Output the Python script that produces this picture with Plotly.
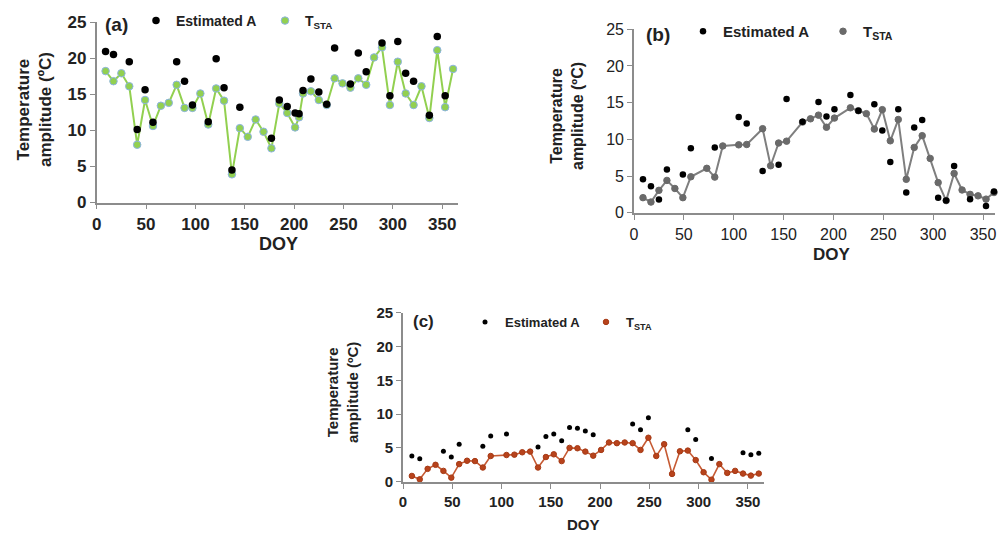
import plotly.graph_objects as go

W, H = 1000, 536
FONT = "Liberation Sans, Arial, Helvetica, sans-serif"

# ---------------- data ----------------
# Panel (a)
doy_a = [9, 17, 25, 33, 41, 49, 57, 65, 73, 81, 89, 97, 105, 113, 121, 129, 137, 145, 153, 161,
         169, 177, 185, 193, 201, 205, 209, 217, 225, 233, 241, 249, 257, 265, 273, 281, 289, 297,
         305, 313, 321, 329, 337, 345, 353, 361]
tsta_a = [18.2, 16.8, 17.9, 16.1, 8.0, 14.2, 10.6, 13.4, 13.8, 16.3, 13.1, 13.1, 15.1, 10.8, 15.8,
          14.1, 3.9, 10.3, 9.1, 11.5, 9.8, 7.5, 13.7, 12.4, 10.4, 11.8, 15.1, 15.4, 14.2, 13.5, 17.2,
          16.5, 15.9, 17.2, 16.3, 20.1, 21.5, 13.5, 19.5, 15.1, 13.5, 16.1, 11.7, 21.1, 13.2, 18.5]
est_doy_a = [9, 17, 33, 41, 49, 57, 81, 89, 97, 113, 121, 129, 137, 145, 177, 185, 193, 201, 205,
             209, 217, 225, 233, 241, 257, 265, 273, 289, 297, 305, 313, 321, 337, 345, 353]
est_a = [20.9, 20.5, 19.5, 10.1, 15.6, 11.1, 19.5, 16.8, 13.5, 11.2, 19.9, 15.9, 4.5, 13.2, 8.9,
         14.2, 13.3, 12.4, 12.3, 15.5, 17.1, 15.3, 13.6, 21.4, 16.4, 20.7, 18.1, 22.1, 14.8, 22.3,
         17.9, 16.8, 12.1, 23.0, 14.8]

# Panel (b)
doy_b = [9, 17, 25, 33, 41, 49, 57, 73, 81, 89, 105, 113, 129, 137, 145, 153, 169, 177, 185, 193,
         201, 217, 225, 233, 241, 249, 257, 265, 273, 281, 289, 297, 305, 313, 321, 329, 337, 345,
         353, 361]
tsta_b = [2.05, 1.45, 3.05, 4.4, 3.3, 2.05, 4.9, 6.05, 4.85, 9.1, 9.25, 9.3, 11.45, 6.4, 9.5, 9.75,
          12.35, 12.8, 13.3, 11.65, 12.9, 14.3, 13.9, 13.5, 11.4, 14.05, 9.8, 12.7, 4.55, 8.9, 10.5,
          7.4, 4.1, 1.65, 5.35, 3.1, 2.5, 2.3, 1.85, 2.75]
est_doy_b = [9, 17, 25, 33, 49, 57, 81, 105, 113, 129, 145, 153, 169, 185, 193, 201, 217, 225, 241,
             249, 257, 265, 273, 281, 289, 305, 313, 321, 337, 353, 361]
est_b = [4.55, 3.6, 1.8, 5.9, 5.2, 8.8, 8.9, 13.05, 12.15, 5.7, 6.55, 15.5, 12.4, 15.1, 13.1, 14.1,
         16.05, 13.9, 14.8, 11.2, 6.9, 14.1, 2.75, 11.6, 12.65, 2.05, 1.65, 6.35, 1.85, 0.9, 2.9]

# Panel (c)
doy_c = [9, 17, 25, 33, 41, 49, 57, 65, 73, 81, 89, 105, 113, 121, 129, 137, 145, 153, 161, 169,
         177, 185, 193, 201, 209, 217, 225, 233, 241, 249, 257, 265, 273, 281, 289, 297, 305, 313,
         321, 329, 337, 345, 353, 361]
tsta_c = [0.85, 0.35, 1.9, 2.5, 1.6, 0.6, 2.6, 3.1, 3.05, 2.1, 3.8, 3.95, 4.0, 4.35, 4.45, 2.1,
          3.65, 4.05, 3.05, 5.0, 4.95, 4.45, 3.85, 4.7, 5.8, 5.7, 5.8, 5.7, 4.7, 6.5, 3.8, 5.55,
          1.15, 4.5, 4.6, 3.2, 1.4, 0.3, 2.6, 1.3, 1.6, 1.2, 0.9, 1.2]
est_doy_c = [9, 17, 41, 49, 57, 81, 89, 105, 137, 145, 153, 161, 169, 177, 185, 193, 233, 241, 249,
             289, 297, 313, 345, 353, 361]
est_c = [3.8, 3.4, 4.5, 3.65, 5.55, 5.25, 6.75, 7.05, 5.15, 6.7, 7.05, 6.05, 8.0, 7.9, 7.5, 6.95,
         8.55, 7.7, 9.45, 7.7, 6.25, 3.45, 4.3, 4.0, 4.2]

x_ticks = [0, 50, 100, 150, 200, 250, 300, 350]
y_ticks = [0, 5, 10, 15, 20, 25]

labels = ["(a)", "(b)", "(c)"]
est_name = "Estimated A"
tsta_name = "T<sub>STA</sub>"
x_title = "DOY"
y_title = "Temperature<br>amplitude (ºC)"

# ---------------- styling / layout ----------------
def fx(p):
    return p / W


def fy(p):
    return 1 - p / H


panels = [
    dict(doy=doy_a, tsta=tsta_a, edoy=est_doy_a, est=est_a, xa="x", ya="y", lg="legend",
         xdom=(96.7, 458), ydom=(202.5, 22), xmax=366,
         line_col="#92D050", mk_col="#92D050", mk_line="#8DB4E2", mk_size=7.5, line_w=2,
         est_size=7.5, tick_font=dict(size=17, family=FONT, color="#222", weight="bold"),
         xstand=0,
         leg=dict(dot=(156, 20), gap=129, size=14),
         lab=(116, 24, 19), ytitle=(35, 110, 17), xtitle=(278, 244, 18)),
    dict(doy=doy_b, tsta=tsta_b, edoy=est_doy_b, est=est_b, xa="x2", ya="y2", lg="legend2",
         xdom=(634, 995), ydom=(212.7, 29.3), xmax=362,
         line_col="#7F7F7F", mk_col="#6A6A6A", mk_line="#6A6A6A", mk_size=6.5, line_w=2,
         est_size=6.5, tick_font=dict(size=16, family=FONT, color="#222"),
         xstand=1,
         leg=dict(dot=(703, 30), gap=140, size=15),
         lab=(658, 34, 19), ytitle=(567, 116, 16), xtitle=(832, 254, 17)),
    dict(doy=doy_c, tsta=tsta_c, edoy=est_doy_c, est=est_c, xa="x3", ya="y3", lg="legend3",
         xdom=(403, 763.7), ydom=(481.7, 312.7), xmax=366,
         line_col="#C65A33", mk_col="#B8431C", mk_line="#A63A15", mk_size=5.5, line_w=1.6,
         est_size=5, tick_font=dict(size=15, family=FONT, color="#222", weight="bold"),
         xstand=0,
         leg=dict(dot=(485, 322), gap=121, size=13),
         lab=(423, 321, 17), ytitle=(342, 393, 15), xtitle=(583, 524, 15)),
]

fig = go.Figure()
layout = dict(
    width=W, height=H, margin=dict(l=0, r=0, t=0, b=0, pad=0, autoexpand=False),
    paper_bgcolor="white", plot_bgcolor="white",
    font=dict(family=FONT, color="#222"),
    showlegend=True,
)
annotations = []

for i, p in enumerate(panels):
    # TSTA line
    fig.add_trace(go.Scatter(
        x=p["doy"], y=p["tsta"], mode="lines", xaxis=p["xa"], yaxis=p["ya"],
        line=dict(color=p["line_col"], width=p["line_w"]), showlegend=False,
        hoverinfo="skip", cliponaxis=False))
    # TSTA markers
    fig.add_trace(go.Scatter(
        x=p["doy"], y=p["tsta"], mode="markers", xaxis=p["xa"], yaxis=p["ya"],
        name=tsta_name, legend=p["lg"], legendrank=2,
        marker=dict(color=p["mk_col"], size=p["mk_size"],
                    line=dict(color=p["mk_line"], width=1)),
        cliponaxis=False))
    # Estimated A
    fig.add_trace(go.Scatter(
        x=p["edoy"], y=p["est"], mode="markers", xaxis=p["xa"], yaxis=p["ya"],
        name=est_name, legend=p["lg"], legendrank=1,
        marker=dict(color="black", size=p["est_size"]),
        cliponaxis=False))

    sfx = "" if i == 0 else str(i + 1)
    axis_common = dict(showline=True, linecolor="#8C8C8C", linewidth=1.6, ticks="outside",
                       ticklen=5, tickwidth=1.4, tickcolor="#8C8C8C", showgrid=False,
                       zeroline=False, tickfont=p["tick_font"], automargin=False)
    layout["xaxis" + sfx] = dict(
        domain=[fx(p["xdom"][0]), fx(p["xdom"][1])], range=[0, p["xmax"]],
        tickvals=x_ticks, anchor="y" + sfx, ticklabelstandoff=p["xstand"], **axis_common)
    layout["yaxis" + sfx] = dict(
        domain=[fy(p["ydom"][0]), fy(p["ydom"][1])], range=[0, 25],
        tickvals=y_ticks, anchor="x" + sfx, **axis_common)

    lg = p["leg"]
    layout[p["lg"]] = dict(
        orientation="h", x=fx(lg["dot"][0] - 20), y=fy(lg["dot"][1] - 15),
        xanchor="left", yanchor="top", bgcolor="rgba(0,0,0,0)",
        entrywidth=lg["gap"] - 45, entrywidthmode="pixels", traceorder="normal",
        font=dict(size=lg["size"], family=FONT, color="#222", weight="bold"),
        itemclick=False, itemdoubleclick=False)

    lx, ly, ls = p["lab"]
    annotations.append(dict(text=labels[i], x=fx(lx), y=fy(ly), xref="paper", yref="paper",
                            xanchor="center", yanchor="middle", showarrow=False,
                            font=dict(size=ls, family=FONT, weight="bold", color="#222")))
    tx, ty, ts = p["ytitle"]
    annotations.append(dict(text=y_title, x=fx(tx), y=fy(ty), xref="paper", yref="paper",
                            xanchor="center", yanchor="middle", showarrow=False, textangle=-90,
                            font=dict(size=ts, family=FONT, weight="bold", color="#222")))
    dx, dy, ds = p["xtitle"]
    annotations.append(dict(text=x_title, x=fx(dx), y=fy(dy), xref="paper", yref="paper",
                            xanchor="center", yanchor="middle", showarrow=False,
                            font=dict(size=ds, family=FONT, weight="bold", color="#222")))

layout["annotations"] = annotations
fig.update_layout(**layout)
fig.write_html("out.html", config={"displayModeBar": False},
               post_script="document.body.style.margin='0';")
